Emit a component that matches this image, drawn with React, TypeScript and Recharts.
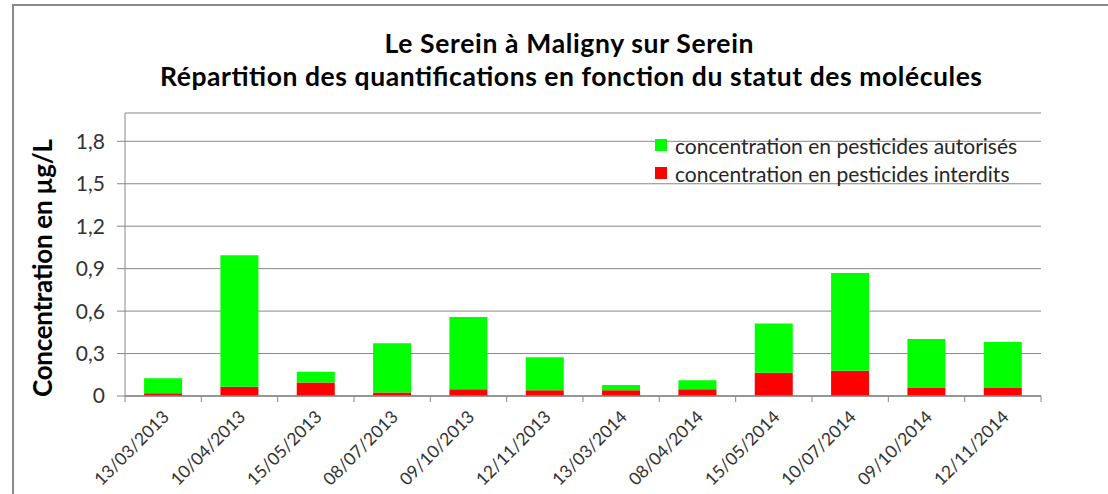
import React from 'react';
import { BarChart, Bar, XAxis, YAxis, CartesianGrid } from 'recharts';

const categories = [
  '13/03/2013', '10/04/2013', '15/05/2013', '08/07/2013', '09/10/2013', '12/11/2013',
  '13/03/2014', '08/04/2014', '15/05/2014', '10/07/2014', '09/10/2014', '12/11/2014',
];
const interdits = [0.02, 0.065, 0.095, 0.025, 0.047, 0.04, 0.04, 0.047, 0.165, 0.179, 0.057, 0.057];
const autorises = [0.105, 0.93, 0.077, 0.348, 0.512, 0.234, 0.038, 0.064, 0.347, 0.691, 0.346, 0.325];
const yTicks = [0, 0.3, 0.6, 0.9, 1.2, 1.5, 1.8];

const titleLines = [
  'Le Serein à Maligny sur Serein',
  'Répartition des quantifications en fonction du statut des molécules',
];
const yAxisTitle = 'Concentration en µg/L';
const legendItems = [
  { label: 'concentration en pesticides autorisés', color: '#00ff00' },
  { label: 'concentration en pesticides interdits', color: '#ff0000' },
];

const data = categories.map((date, i) => ({
  date,
  interdits: interdits[i],
  autorises: autorises[i],
}));

const FONT = 'Lato, "Open Sans", sans-serif';
const AXIS = '#878787';
const PLOT_LEFT = 125;
const PLOT_RIGHT = 1041;
const BAND = (PLOT_RIGHT - PLOT_LEFT) / categories.length;

const XTick = (props: any) => {
  const { x, y, payload, index } = props;
  const left = x - BAND / 2;
  const right = x + BAND / 2;
  return (
    <g>
      <line x1={left} y1={y} x2={left} y2={y + 6} stroke={AXIS} />
      {index === categories.length - 1 && <line x1={right} y1={y} x2={right} y2={y + 6} stroke={AXIS} />}
      <g transform={`translate(${x + 7},${y + 22}) rotate(-45)`}>
        <text x={0} y={0} textAnchor="end" fontFamily={FONT} fontSize={17.5} fill="#333">
          {payload.value}
        </text>
      </g>
    </g>
  );
};

export default function App() {
  return (
    <div style={{ position: 'absolute', left: 0, top: 0, width: 1108, height: 494, background: '#fff', overflow: 'hidden' }}>
      <div style={{ position: 'absolute', left: 12, top: 4, width: 1200, height: 600, borderTop: '2px solid #8a8a8a', borderLeft: '2px solid #8a8a8a' }} />
      <BarChart
        width={1108}
        height={494}
        data={data}
        margin={{ top: 113, right: 1108 - PLOT_RIGHT, bottom: 8, left: PLOT_LEFT - 60 }}
        barCategoryGap="25%"
        style={{ position: 'absolute', left: 0, top: 0 }}
      >
        <CartesianGrid vertical={false} stroke={AXIS} strokeWidth={1} />
        <XAxis
          dataKey="date"
          interval={0}
          tickSize={0}
          tickMargin={0}
          tickLine={false}
          axisLine={{ stroke: AXIS, strokeWidth: 1.5 }}
          height={90}
          tick={<XTick />}
        />
        <YAxis
          domain={[0, 2]}
          ticks={yTicks}
          interval={0}
          width={60}
          tickSize={8}
          tickMargin={12}
          axisLine={{ stroke: AXIS }}
          tickLine={{ stroke: AXIS }}
          tickFormatter={(v: number) => String(v).replace('.', ',')}
          tick={{ fontSize: 21, fill: '#333', fontFamily: FONT }}
        />
        <Bar dataKey="interdits" stackId="s" fill="#ff0000" isAnimationActive={false} />
        <Bar dataKey="autorises" stackId="s" fill="#00ff00" isAnimationActive={false} />
      </BarChart>
      <div style={{ position: 'absolute', left: 655, top: 131, fontFamily: FONT, fontSize: 21, color: '#262626' }}>
        {legendItems.map((it) => (
          <div key={it.label} style={{ display: 'flex', alignItems: 'center', height: 28, whiteSpace: 'nowrap' }}>
            <span style={{ width: 12, height: 12, background: it.color, marginRight: 8, display: 'inline-block' }} />
            {it.label}
          </div>
        ))}
      </div>
      <svg width={1108} height={494} style={{ position: 'absolute', left: 0, top: 0, pointerEvents: 'none' }}>
        <text x={569} y={53} textAnchor="middle" fontFamily={FONT} fontWeight="bold" fontSize={26.5} fill="#000" textLength={369}>
          {titleLines[0]}
        </text>
        <text x={571} y={86} textAnchor="middle" fontFamily={FONT} fontWeight="bold" fontSize={26.5} fill="#000" textLength={822}>
          {titleLines[1]}
        </text>
        <text
          x={0}
          y={0}
          transform="translate(52,268) rotate(-90)"
          textAnchor="middle"
          fontFamily={FONT}
          fontWeight="bold"
          fontSize={26}
          fill="#000"
          textLength={258}
        >
          {yAxisTitle}
        </text>
      </svg>
    </div>
  );
}
